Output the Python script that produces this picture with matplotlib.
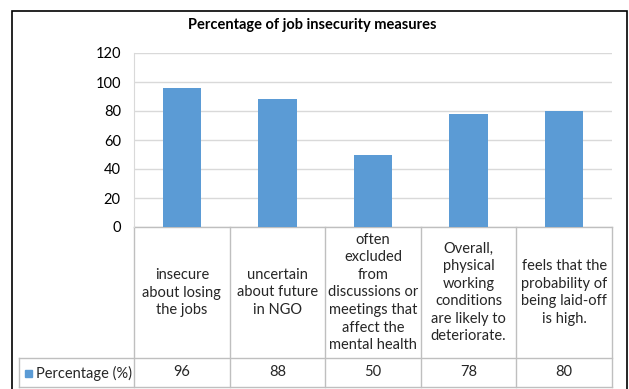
import matplotlib.pyplot as plt
from matplotlib.patches import Rectangle

categories = [
    "insecure\nabout losing\nthe jobs",
    "uncertain\nabout future\nin NGO",
    "often\nexcluded\nfrom\ndiscussions or\nmeetings that\naffect the\nmental health",
    "Overall,\nphysical\nworking\nconditions\nare likely to\ndeteriorate.",
    "feels that the\nprobability of\nbeing laid-off\nis high.",
]
values = [96, 88, 50, 78, 80]
series_name = "Percentage (%)"
yticks = [0, 20, 40, 60, 80, 100, 120]

W, H = 629, 389
bar_color = "#5B9BD5"
grid_color = "#D9D9D9"
line_color = "#BFBFBF"
plt.rcParams["font.family"] = ["Lato", "DejaVu Sans"]

fig = plt.figure(figsize=(W / 100, H / 100), dpi=100)

# plot area in pixel coords of the reference
left, right, top, bottom = 134, 612, 53, 227
ax = fig.add_axes([left / W, 1 - bottom / H, (right - left) / W, (bottom - top) / H])
x = range(len(values))
ax.bar(x, values, width=0.4, color=bar_color, zorder=3)
ax.set_xlim(-0.5, len(values) - 0.5)
ax.set_ylim(0, 120)
ax.set_yticks(yticks)
ax.tick_params(axis="y", length=0, pad=9.5, labelsize=10.5)
ax.tick_params(axis="x", length=0, labelbottom=False)
ax.grid(axis="y", color=grid_color, linewidth=1, zorder=0)
for side in ["top", "right", "bottom"]:
    ax.spines[side].set_visible(False)
ax.spines["left"].set_color(grid_color)

# data table under the axis
ph = bottom - top
row_div = -(358 - bottom) / ph
tbl_bot = -(387 - bottom) / ph
cell_left = -0.5 - (left - 19) / ((right - left) / len(values))
tr = ax.get_xaxis_transform()
for i in range(len(values) + 1):
    ax.plot([i - 0.5, i - 0.5], [0, tbl_bot], color=line_color, lw=1, transform=tr, clip_on=False)
ax.plot([-0.5, len(values) - 0.5], [0, 0], color=line_color, lw=1, transform=tr, clip_on=False)
for yy in [row_div, tbl_bot]:
    ax.plot([cell_left, len(values) - 0.5], [yy, yy], color=line_color, lw=1, transform=tr, clip_on=False)
ax.plot([cell_left, cell_left], [row_div, tbl_bot], color=line_color, lw=1, transform=tr, clip_on=False)

for i, (c, v) in enumerate(zip(categories, values)):
    ax.text(i, row_div / 2, c, transform=tr, ha="center", va="center",
            fontsize=10.5, linespacing=1.32, color="#262626")
    ax.text(i, (row_div + tbl_bot) / 2, str(v), transform=tr, ha="center", va="center",
            fontsize=10.5, color="#262626")

# legend key in the table
fig.patches.append(Rectangle((25 / W, 1 - 377 / H), 7 / W, 7 / H, color=bar_color,
                             transform=fig.transFigure))
fig.text(36 / W, 1 - 373 / H, series_name, ha="left", va="center", fontsize=10.5, color="#262626")

fig.suptitle("Percentage of job insecurity measures", x=312 / W, y=1 - 25 / H,
             va="center", fontsize=10.5, fontweight="bold")

# outer chart border
fig.patches.append(Rectangle((12 / W, -0.05), 615 / W, 1.05 - 11 / H, fill=False,
                             edgecolor="black", lw=1.2, transform=fig.transFigure))

fig.savefig("out.png", dpi=100)
